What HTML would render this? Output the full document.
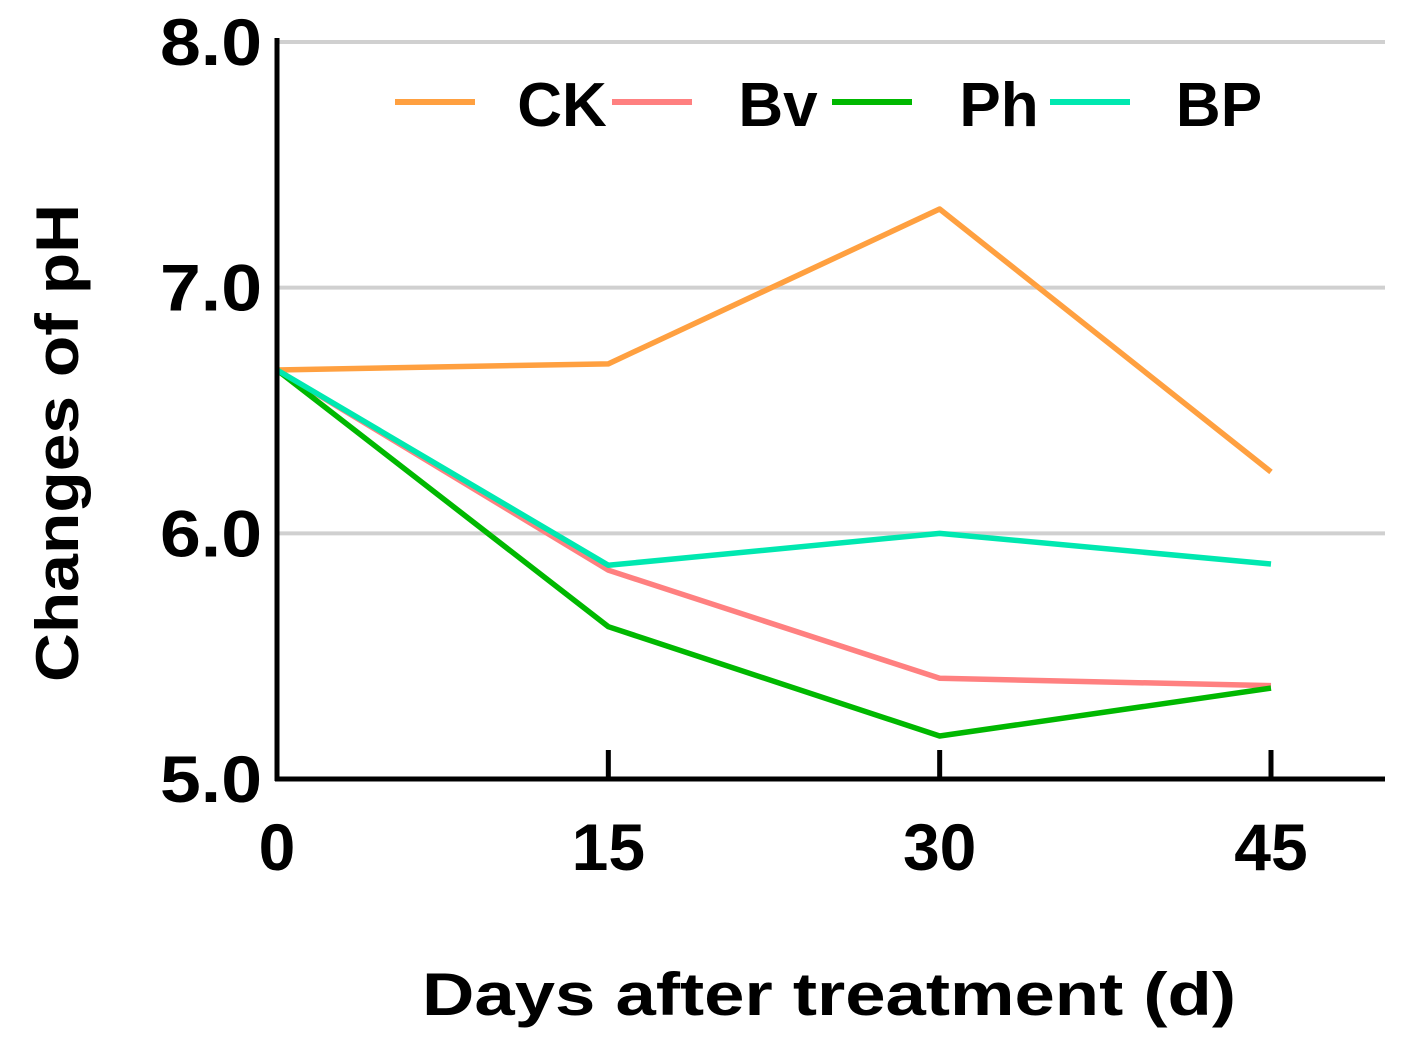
<!DOCTYPE html>
<html><head><meta charset="utf-8"><style>
html,body{margin:0;padding:0;background:#fff;}
svg{display:block;}
text{font-family:"Liberation Sans",sans-serif;font-weight:bold;fill:#000;}
</style></head><body>
<svg id="chart" width="1415" height="1051" viewBox="0 0 1415 1051" xmlns="http://www.w3.org/2000/svg">
<g id="grid"></g>
<g id="series"></g>
<g id="axes"></g>
<g id="legend"></g>
<text x="0" y="0" transform="translate(78,443) rotate(-90)" text-anchor="middle" font-size="60" textLength="478" lengthAdjust="spacingAndGlyphs">Changes of pH</text>
<text x="829" y="1015" text-anchor="middle" font-size="60" textLength="814" lengthAdjust="spacingAndGlyphs">Days after treatment (d)</text>
</svg>
<script>
const days = [0, 15, 30, 45];
const seriesNames = ["CK", "Bv", "Ph", "BP"];
const ckValues = [6.665, 6.69, 7.32, 6.25];
const bvValues = [6.665, 5.85, 5.41, 5.38];
const phValues = [6.665, 5.62, 5.175, 5.37];
const bpValues = [6.665, 5.87, 6.0, 5.875];
const yTicks = [5.0, 6.0, 7.0, 8.0];
const yTickLabels = ["5.0", "6.0", "7.0", "8.0"];
const xTickLabels = ["0", "15", "30", "45"];

const NS = "http://www.w3.org/2000/svg";
const xs = d => 277 + (d - 0) / 45 * (1271 - 277);
const ys = v => 779 - (v - 5) / 3 * (779 - 42);
function mk(tag, attrs, parent) {
  const e = document.createElementNS(NS, tag);
  for (const k in attrs) e.setAttribute(k, attrs[k]);
  parent.appendChild(e);
  return e;
}
const grid = document.getElementById('grid');
const axes = document.getElementById('axes');
const seriesG = document.getElementById('series');
const legend = document.getElementById('legend');

yTicks.forEach((t, i) => {
  if (t > 5) {
    const g = mk('line', {x1: 277, x2: 1385, y1: ys(t), y2: ys(t), stroke: '#d0d0d0', 'stroke-width': 4}, grid);
    
    
  }
  const lb = mk('text', {x: 262, y: ys(t) + 23, 'text-anchor': 'end', 'font-size': 66, textLength: 102, lengthAdjust: 'spacingAndGlyphs'}, axes);
  lb.textContent = yTickLabels[i];
  
  
});

const colors = ["#ffa040", "#ff8080", "#00b800", "#00e8b0"];
const allVals = [ckValues, bvValues, phValues, bpValues];
allVals.forEach((vals, si) => {
  const pts = vals.map((v, i) => xs(days[i]) + ',' + ys(v)).join(' ');
  const pl = mk('polyline', {points: pts, fill: 'none', stroke: colors[si], 'stroke-width': 5.5, 'stroke-linejoin': 'round'}, seriesG);
  
  
});

const ya = mk('line', {x1: 277, x2: 277, y1: 38, y2: 781, stroke: '#000', 'stroke-width': 5}, axes);


const xa = mk('line', {x1: 275, x2: 1385, y1: 779, y2: 779, stroke: '#000', 'stroke-width': 5}, axes);


days.forEach((d, i) => {
  if (d > 0) {
    const tk = mk('line', {x1: xs(d), x2: xs(d), y1: 750, y2: 779, stroke: '#000', 'stroke-width': 5}, axes);
    
    
  }
  const lb = mk('text', {x: xs(d), y: 870, 'text-anchor': 'middle', 'font-size': 66}, axes);
  lb.textContent = xTickLabels[i];
  
  
});

const legX = [395, 612, 832, 1050];
const legTX = [562, 778, 999, 1219];
seriesNames.forEach((n, i) => {
  const l = mk('line', {x1: legX[i], x2: legX[i] + 80, y1: 102, y2: 102, stroke: colors[i], 'stroke-width': 6}, legend);
  
  
  const t = mk('text', {x: legTX[i], y: 126, 'text-anchor': 'middle', 'font-size': 62}, legend);
  t.textContent = n;
  
  
});
</script>
</body></html>
